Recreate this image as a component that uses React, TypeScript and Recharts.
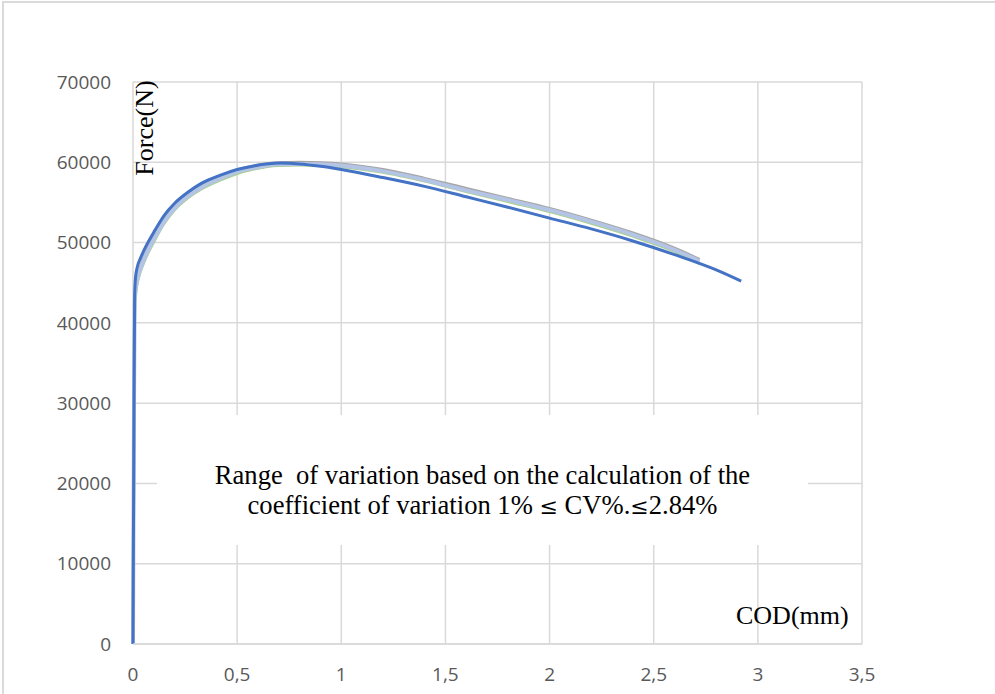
import React from "react";
import {
  LineChart,
  Line,
  XAxis,
  YAxis,
  CartesianGrid,
} from "recharts";

// specimen A (blue, the longest curve)
const codA = [0, 0.004, 0.008, 0.012, 0.02, 0.035, 0.05, 0.1, 0.15, 0.2, 0.26, 0.33, 0.42, 0.5, 0.58, 0.71, 0.8, 0.9, 1.0, 1.2, 1.4, 1.6, 1.8, 2.0, 2.2, 2.4, 2.6, 2.8, 2.92];
const forceA = [0, 25000, 43500, 45600, 46900, 48000, 48900, 51300, 53400, 54900, 56200, 57400, 58400, 59100, 59550, 59900, 59800, 59500, 59100, 58100, 57000, 55700, 54400, 53050, 51700, 50200, 48500, 46600, 45200];

// specimen B (light blue band)
const codB = [0, 0.004, 0.008, 0.014, 0.025, 0.05, 0.1, 0.15, 0.2, 0.26, 0.33, 0.42, 0.5, 0.58, 0.7, 0.8, 0.9, 1.0, 1.2, 1.4, 1.6, 1.8, 2.0, 2.2, 2.4, 2.6, 2.72];
const forceB = [0, 25000, 42500, 44300, 45800, 47700, 50400, 52600, 54300, 55700, 56900, 58000, 58800, 59300, 59750, 59800, 59750, 59600, 58900, 57800, 56500, 55300, 54050, 52600, 51000, 49100, 47700];

// specimen C (gray)
const codC = [0, 0.004, 0.008, 0.014, 0.025, 0.05, 0.1, 0.15, 0.2, 0.26, 0.33, 0.42, 0.5, 0.58, 0.7, 0.8, 0.9, 1.0, 1.2, 1.4, 1.6, 1.8, 2.0, 2.2, 2.4, 2.6, 2.72];
const forceC = [0, 25000, 42800, 44600, 46100, 48000, 50700, 52900, 54600, 56000, 57200, 58250, 59050, 59550, 59950, 60000, 59950, 59800, 59100, 58000, 56750, 55500, 54250, 52800, 51200, 49300, 47900];

// specimen D (green, mostly hidden)
const codD = [0, 0.004, 0.008, 0.014, 0.025, 0.05, 0.1, 0.15, 0.2, 0.26, 0.33, 0.42, 0.5, 0.58, 0.7, 0.8, 0.9, 1.0, 1.2, 1.4, 1.6, 1.8, 2.0, 2.2, 2.4, 2.6, 2.72];
const forceD = [0, 25000, 42300, 44000, 45500, 47400, 50100, 52400, 54100, 55500, 56700, 57800, 58600, 59150, 59600, 59650, 59600, 59450, 58750, 57650, 56350, 55100, 53850, 52400, 50800, 48900, 47400];

const xTicks = [0, 0.5, 1, 1.5, 2, 2.5, 3, 3.5];
const yTicks = [0, 10000, 20000, 30000, 40000, 50000, 60000, 70000];

const toRows = (cod: number[], force: number[]) =>
  cod.map((c, i) => ({ cod: c, force: force[i] }));

const tickStyle = { fill: "#595959", fontSize: 19, fontFamily: "Open Sans" };
const serif = "'Liberation Serif', 'Times New Roman', serif";
const le = <span style={{ fontFamily: "'DejaVu Serif', serif", fontSize: 22 }}>≤</span>;

export default function App() {
  return (
    <div
      style={{
        position: "absolute",
        left: 0,
        top: 0,
        width: 995,
        height: 694,
        overflow: "hidden",
        background: "#fff",
      }}
    >
      <div
        style={{
          position: "absolute",
          left: 2,
          top: 1,
          width: 1200,
          height: 1000,
          borderTop: "2px solid #dadada",
          borderLeft: "2px solid #dadada",
        }}
      />
      <LineChart
        width={995}
        height={694}
        margin={{ top: 82, right: 133, left: 0, bottom: 0 }}
      >
        <CartesianGrid stroke="#d9d9d9" strokeWidth={1.5} />
        <XAxis
          type="number"
          dataKey="cod"
          domain={[0, 3.5]}
          ticks={xTicks}
          height={50}
          tickLine={false}
          tickSize={0}
          tickMargin={24}
          axisLine={{ stroke: "#d9d9d9", strokeWidth: 1.5 }}
          tick={tickStyle}
          tickFormatter={(v: number) => String(v).replace(".", ",")}
          allowDuplicatedCategory={false}
        />
        <YAxis
          type="number"
          dataKey="force"
          domain={[0, 70000]}
          ticks={yTicks}
          width={133}
          tickLine={false}
          axisLine={false}
          tickSize={0}
          tickMargin={22}
          tick={tickStyle}
        />
        <Line data={toRows(codD, forceD)} dataKey="force" type="monotone" stroke="#a9d18e" strokeWidth={3} dot={false} isAnimationActive={false} />
        <Line data={toRows(codC, forceC)} dataKey="force" type="monotone" stroke="#a5a5a5" strokeWidth={3} dot={false} isAnimationActive={false} />
        <Line data={toRows(codB, forceB)} dataKey="force" type="monotone" stroke="#b4c4e4" strokeWidth={4} dot={false} isAnimationActive={false} />
        <Line data={toRows(codA, forceA)} dataKey="force" type="monotone" stroke="#4472c4" strokeWidth={3} dot={false} isAnimationActive={false} />
      </LineChart>
      <div
        style={{
          position: "absolute",
          left: 85,
          top: 114.5,
          width: 120,
          height: 26,
          lineHeight: "26px",
          fontSize: 26,
          fontFamily: serif,
          textAlign: "center",
          whiteSpace: "nowrap",
          transform: "rotate(-90deg)",
          color: "#000",
        }}
      >
        Force(N)
      </div>
      <div
        style={{
          position: "absolute",
          left: 736,
          top: 603,
          lineHeight: "26px",
          fontSize: 26,
          fontFamily: serif,
          whiteSpace: "nowrap",
          color: "#000",
        }}
      >
        COD(mm)
      </div>
      <div
        style={{
          position: "absolute",
          left: 157,
          top: 415,
          width: 651,
          height: 130,
          background: "#fff",
          boxSizing: "border-box",
          paddingTop: 45,
          fontSize: 26.6,
          lineHeight: "30px",
          fontFamily: serif,
          textAlign: "center",
          whiteSpace: "pre",
          color: "#000",
        }}
      >
        <div>Range  of variation based on the calculation of the</div>
        <div>
          coefficient of variation 1% {le} CV%.{le}2.84%
        </div>
      </div>
    </div>
  );
}
